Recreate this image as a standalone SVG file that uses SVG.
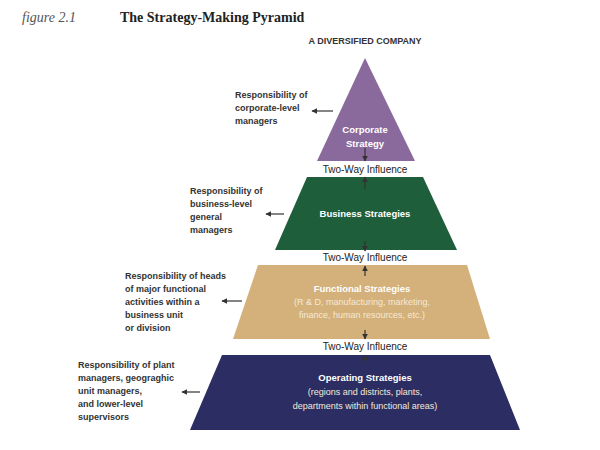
<svg xmlns="http://www.w3.org/2000/svg" width="600" height="450" viewBox="0 0 600 450">
<defs>
<marker id="ah" viewBox="0 0 10 10" refX="9" refY="5" markerWidth="5" markerHeight="5" orient="auto"><path d="M0,0L10,5L0,10z" fill="#333"/></marker>
</defs>
<style>
.l{font-family:"Liberation Sans",Arial,sans-serif;font-size:9px;fill:#333;font-weight:bold}
.w{font-family:"Liberation Sans",Arial,sans-serif;font-size:9.5px;fill:#fff;font-weight:bold;text-anchor:middle}
.wn{font-family:"Liberation Sans",Arial,sans-serif;font-size:9px;fill:#f4ead8;text-anchor:middle}
.tw{font-family:"Liberation Sans",Arial,sans-serif;font-size:10px;fill:#222;text-anchor:middle}
.c{stroke:#333;stroke-width:1.2;fill:none;marker-end:url(#ah)}
</style>
<rect width="600" height="450" fill="#fff"/>
<text x="22" y="22" font-family="Liberation Serif,serif" font-size="14" font-style="italic" fill="#555">figure 2.1</text>
<text x="120" y="22" font-family="Liberation Serif,serif" font-size="14" font-weight="bold" fill="#222">The Strategy-Making Pyramid</text>
<text x="365" y="44" class="l" text-anchor="middle" font-size="8.5">A DIVERSIFIED COMPANY</text>
<g id="corporate"><polygon points="365,58 415,161 317,161" fill="#8a6a9c"/>
<text x="365" y="133" class="w">Corporate</text><text x="365" y="147" class="w">Strategy</text></g>
<g id="business"><polygon points="307,177 423,177 457,250 275,250" fill="#1f5e3a"/>
<text x="365" y="217" class="w">Business Strategies</text></g>
<g id="functional"><polygon points="258,265 467,265 490,339 233,339" fill="#d4b07a"/>
<text x="362" y="292" class="w">Functional Strategies</text>
<text x="362" y="305" class="wn">(R &amp; D, manufacturing, marketing,</text>
<text x="362" y="318" class="wn">finance, human resources, etc.)</text></g>
<g id="operating"><polygon points="222,355 490,355 520,430 190,430" fill="#2b2d63"/>
<text x="365" y="381" class="w">Operating Strategies</text>
<text x="365" y="395" class="wn" fill="#fff">(regions and districts, plants,</text>
<text x="365" y="409" class="wn" fill="#fff">departments within functional areas)</text></g>
<g id="labels">
<text x="365" y="173" class="tw">Two-Way Influence</text>
<text x="365" y="261" class="tw">Two-Way Influence</text>
<text x="365" y="350" class="tw">Two-Way Influence</text>
<text class="l"><tspan x="235" y="98">Responsibility of</tspan><tspan x="235" y="111">corporate-level</tspan><tspan x="235" y="124">managers</tspan></text>
<text class="l"><tspan x="190" y="194">Responsibility of</tspan><tspan x="190" y="207">business-level</tspan><tspan x="190" y="220">general</tspan><tspan x="190" y="233">managers</tspan></text>
<text class="l"><tspan x="125" y="279">Responsibility of heads</tspan><tspan x="125" y="292">of major functional</tspan><tspan x="125" y="305">activities within a</tspan><tspan x="125" y="318">business unit</tspan><tspan x="125" y="331">or division</tspan></text>
<text class="l"><tspan x="78" y="368">Responsibility of plant</tspan><tspan x="78" y="381">managers, geograghic</tspan><tspan x="78" y="394">unit managers,</tspan><tspan x="78" y="407">and lower-level</tspan><tspan x="78" y="420">supervisors</tspan></text>
</g>
<g id="connectors">
<line x1="333" y1="111" x2="312" y2="111" class="c"/>
<line x1="284" y1="214" x2="266" y2="214" class="c"/>
<line x1="242" y1="301" x2="222" y2="301" class="c"/>
<line x1="200" y1="392" x2="182" y2="392" class="c"/>
<line x1="365" y1="148" x2="365" y2="161" class="c"/>
<line x1="365" y1="189" x2="365" y2="177" class="c"/>
<line x1="365" y1="241" x2="365" y2="251" class="c"/>
<line x1="365" y1="276" x2="365" y2="266" class="c"/>
<line x1="365" y1="330" x2="365" y2="339" class="c"/>
<line x1="365" y1="364" x2="365" y2="355" class="c"/>
</g>
</svg>
